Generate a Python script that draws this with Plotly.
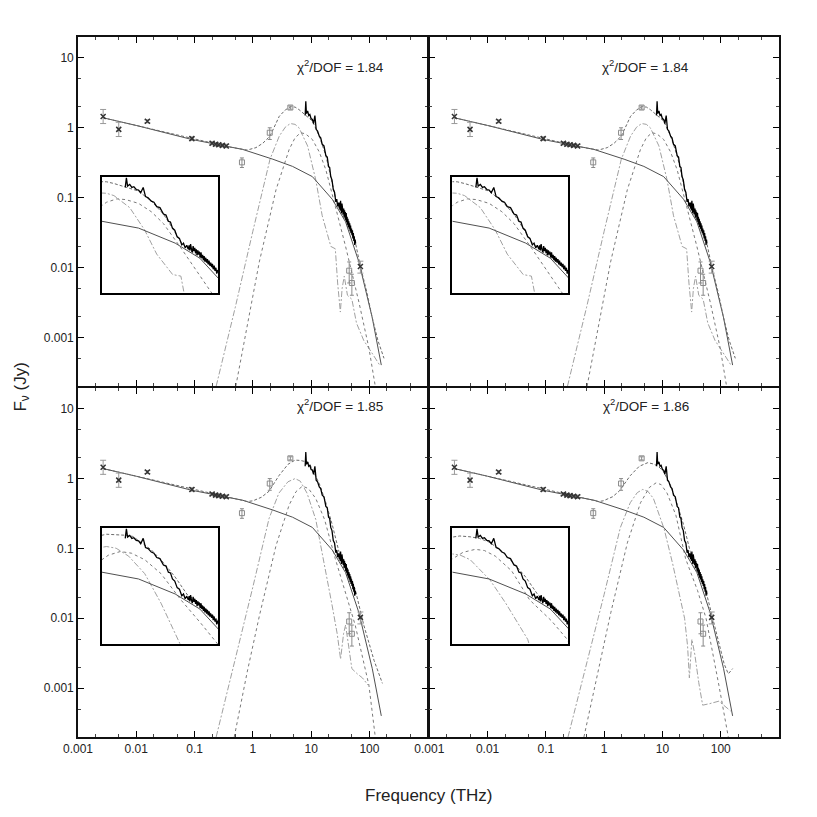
import plotly.graph_objects as go

# ---- observed photometry, black crosses (THz, Jy)
phot_freq = [0.0027, 0.005, 0.0155, 0.09, 0.2, 0.23, 0.26, 0.3, 0.35, 70]
phot_flux = [1.45, 0.95, 1.24, 0.70, 0.60, 0.58, 0.57, 0.56, 0.55, 0.0103]
phot_err_up = [0.38, 0.25, 0.06, 0.04, 0.03, 0.03, 0.03, 0.03, 0.03, 0.002]
phot_err_dn = [0.30, 0.20, 0.06, 0.04, 0.03, 0.03, 0.03, 0.03, 0.03, 0.002]

# ---- grey points, open squares
grey_freq = [0.65, 1.95, 4.4, 45, 50]
grey_flux = [0.32, 0.85, 1.95, 0.009, 0.006]
grey_err_up = [0.05, 0.15, 0.10, 0.003, 0.002]
grey_err_dn = [0.05, 0.17, 0.10, 0.003, 0.002]

# ---- mid-IR spectrum (black jagged line)
spec_freq = [7.9, 8.1, 8.3, 8.7, 9.1, 9.5, 10.0, 10.5, 11.0, 11.6, 12.2, 12.9,
             13.8, 14.6, 15.5, 16.6, 17.9, 18.9, 19.9, 20.8, 21.7, 22.8, 24.0,
             25.2, 26.5, 27.5, 28.5, 29.5, 30.5, 31.0, 31.5, 32.0, 32.6, 33.2,
             33.8, 34.4, 35.0, 35.6, 36.2, 36.8, 37.4, 38.0, 38.6, 39.3, 40.0,
             40.7, 41.4, 42.1, 42.8, 43.5, 44.3, 45.1, 45.9, 46.7, 47.5, 48.4,
             49.3, 50.2, 51.1, 52.0, 53.0, 54.0, 55.0, 56.0, 57.0, 58.0]
spec_flux = [1.5, 2.4, 1.6, 1.74, 1.5, 1.55, 1.35, 1.32, 1.15, 1.5, 0.95, 0.9,
             0.76, 0.72, 0.58, 0.55, 0.40, 0.38, 0.28, 0.27, 0.20, 0.18, 0.13,
             0.12, 0.087, 0.095, 0.075, 0.085, 0.07, 0.085, 0.066, 0.09, 0.07,
             0.06, 0.082, 0.064, 0.075, 0.058, 0.07, 0.052, 0.066, 0.054, 0.062,
             0.047, 0.06, 0.045, 0.053, 0.041, 0.05, 0.038, 0.046, 0.036, 0.043,
             0.033, 0.04, 0.031, 0.036, 0.029, 0.034, 0.026, 0.031, 0.024, 0.028,
             0.021, 0.025, 0.022]

# ---- synchrotron power law (same in every panel)
pl_freq = [0.0027, 0.01, 0.09, 0.67, 2.2, 4.8, 10.5, 23, 39, 66, 112, 160]
pl_flux = [1.39, 1.08, 0.68, 0.49, 0.355, 0.28, 0.20, 0.095, 0.045, 0.012, 0.0019, 0.0004]

# ---- top panels (chi2 = 1.84)
tot_a_freq = [0.0027, 0.01, 0.09, 0.4, 0.8, 1.13, 1.48, 1.97, 2.84, 3.6, 4.4, 5.3,
              6.2, 7.3, 8.7, 10.5, 13.8, 17.9, 21.7, 26.5, 32, 39, 48, 58, 70,
              90, 112, 140, 178]
tot_a_flux = [1.39, 1.08, 0.71, 0.53, 0.48, 0.52, 0.6, 0.76, 1.46, 1.8, 2.0, 1.98,
              1.82, 1.62, 1.45, 1.25, 0.76, 0.40, 0.20, 0.095, 0.065, 0.048, 0.033,
              0.022, 0.0103, 0.0045, 0.0019, 0.0009, 0.0005]
c1_a_freq = [0.235, 0.5, 1.0, 1.97, 2.84, 3.6, 4.4, 5.3, 6.2, 8.7, 12, 15.5, 21.8,
             26, 28.5, 31.7, 34, 37, 42, 50, 60, 80, 110, 150]
c1_a_flux = [0.0002, 0.0027, 0.033, 0.355, 0.76, 1.02, 1.15, 1.12, 1.0, 0.55, 0.18,
             0.055, 0.02, 0.0185, 0.006, 0.0023, 0.005, 0.0075, 0.004, 0.0035,
             0.0016, 0.0009, 0.0006, 0.0004]
c2_a_freq = [0.51, 0.8, 1.29, 2.5, 4.2, 5.3, 6.6, 8.0, 10.5, 13.8, 17.9, 26, 39,
             66, 98, 126]
c2_a_flux = [0.0002, 0.0015, 0.012, 0.13, 0.49, 0.72, 0.85, 0.82, 0.68, 0.45, 0.25,
             0.075, 0.02, 0.0032, 0.0007, 0.0002]

# ---- bottom left (chi2 = 1.85)
tot_c_freq = [0.0027, 0.01, 0.09, 0.4, 0.8, 1.0, 1.4, 1.9, 2.8, 4.0, 5.3, 6.5,
              8.0, 9.3, 13.8, 17.9, 23, 30, 39, 57, 80, 120, 167]
tot_c_flux = [1.39, 1.08, 0.71, 0.53, 0.47, 0.48, 0.54, 0.66, 1.1, 1.6, 1.84, 1.82,
              1.75, 1.65, 0.85, 0.45, 0.22, 0.09, 0.06, 0.026, 0.008, 0.0025, 0.00117]
c1_c_freq = [0.235, 0.5, 1.0, 1.9, 2.8, 4.0, 5.3, 6.5, 8.5, 12, 17, 23, 28, 32,
             36, 39, 44, 50, 62, 76, 95]
c1_c_flux = [0.0002, 0.0025, 0.028, 0.27, 0.62, 0.9, 1.0, 0.92, 0.62, 0.26, 0.06,
             0.015, 0.006, 0.0026, 0.006, 0.008, 0.004, 0.0019, 0.0016, 0.0014, 0.0011]
c2_c_freq = [0.48, 0.8, 1.3, 2.5, 4.2, 5.5, 7.1, 9.0, 12, 17, 26, 40, 57, 98, 126]
c2_c_flux = [0.0002, 0.0017, 0.011, 0.11, 0.42, 0.65, 0.78, 0.72, 0.52, 0.26,
             0.071, 0.022, 0.008, 0.0011, 0.0002]

# ---- bottom right (chi2 = 1.86)
tot_d_freq = [0.0027, 0.01, 0.09, 0.4, 0.8, 0.96, 1.4, 1.84, 2.8, 4.0, 5.6, 7.0,
              8.5, 10.5, 13.8, 17.9, 23, 30, 39, 56, 75, 93, 115, 135, 160]
tot_d_flux = [1.39, 1.08, 0.71, 0.53, 0.47, 0.48, 0.55, 0.67, 1.1, 1.5, 1.69, 1.62,
              1.5, 1.25, 0.8, 0.43, 0.22, 0.09, 0.058, 0.024, 0.009, 0.0045, 0.0022,
              0.0016, 0.0019]
c1_d_freq = [0.24, 0.5, 1.0, 1.9, 2.8, 3.7, 4.6, 5.6, 7.0, 10.7, 15, 20, 24, 27,
             29, 32, 36, 42, 49, 65, 93, 148]
c1_d_flux = [0.0002, 0.0022, 0.022, 0.2, 0.45, 0.63, 0.70, 0.66, 0.52, 0.19, 0.06,
             0.02, 0.01, 0.004, 0.0014, 0.005, 0.003, 0.0012, 0.00057, 0.0006,
             0.00065, 0.00047]
c2_d_freq = [0.45, 0.8, 1.3, 2.5, 4.2, 6.0, 7.8, 9.5, 12, 17, 25, 40, 56, 93, 135]
c2_d_flux = [0.0002, 0.0019, 0.012, 0.12, 0.45, 0.75, 0.87, 0.82, 0.62, 0.3, 0.071,
             0.025, 0.01, 0.0011, 0.0002]

chi_labels = ["1.84", "1.84", "1.85", "1.86"]

x_ticks = [0.001, 0.01, 0.1, 1, 10, 100]
x_ticktext = ["0.001", "0.01", "0.1", "1", "10", "100"]
y_ticks = [0.001, 0.01, 0.1, 1, 10]
y_ticktext = ["0.001", "0.01", "0.1", "1", "10"]

FONT = "Liberation Sans"
LW = 1.6  # frame line width

panels = [
    # main axes, inset axes, model curves
    ("", "5", tot_a_freq, tot_a_flux, c1_a_freq, c1_a_flux, c2_a_freq, c2_a_flux),
    ("2", "6", tot_a_freq, tot_a_flux, c1_a_freq, c1_a_flux, c2_a_freq, c2_a_flux),
    ("3", "7", tot_c_freq, tot_c_flux, c1_c_freq, c1_c_flux, c2_c_freq, c2_c_flux),
    ("4", "8", tot_d_freq, tot_d_flux, c1_d_freq, c1_d_flux, c2_d_freq, c2_d_flux),
]


def add_curves(fig, xa, ya, tf, tv, c1f, c1v, c2f, c2v, inset=False):
    ref = dict(xaxis="x" + xa, yaxis="y" + ya, showlegend=False, hoverinfo="skip")
    # model components
    fig.add_trace(go.Scatter(x=c1f, y=c1v, mode="lines",
                             line=dict(color="#a0a0a0", width=1, dash="6px,2px,2px,2px"), **ref))
    fig.add_trace(go.Scatter(x=c2f, y=c2v, mode="lines",
                             line=dict(color="#7a7a7a", width=1, dash="dot"), **ref))
    fig.add_trace(go.Scatter(x=pl_freq, y=pl_flux, mode="lines",
                             line=dict(color="#505050", width=1), **ref))
    fig.add_trace(go.Scatter(x=tf, y=tv, mode="lines",
                             line=dict(color="#6a6a6a", width=1, dash="3px,2px"), **ref))
    # spectrum
    fig.add_trace(go.Scatter(x=spec_freq, y=spec_flux, mode="lines",
                             line=dict(color="black", width=1.3), **ref))
    if inset:
        return
    fig.add_trace(go.Scatter(x=grey_freq, y=grey_flux, mode="markers",
                             marker=dict(symbol="square-open", size=5, color="#8a8a8a",
                                         line=dict(width=1)),
                             error_y=dict(type="data", array=grey_err_up, arrayminus=grey_err_dn,
                                          color="#8a8a8a", thickness=1, width=2), **ref))
    fig.add_trace(go.Scatter(x=phot_freq, y=phot_flux, mode="markers",
                             marker=dict(symbol="x-thin-open", size=5, color="#333",
                                         line=dict(width=1.5, color="#333")),
                             error_y=dict(type="data", array=phot_err_up, arrayminus=phot_err_dn,
                                          color="#999", thickness=1, width=3), **ref))


def main_axis(domain, anchor, tickvals, ticktext, rng, labels):
    return dict(type="log", domain=domain, anchor=anchor, range=rng,
                showline=True, linecolor="#111", linewidth=LW, mirror="allticks",
                ticks="inside", ticklen=6, tickwidth=1, tickcolor="black",
                showgrid=False, zeroline=False,
                tickmode="array", tickvals=tickvals, ticktext=ticktext,
                minor=dict(ticks="inside", ticklen=3, tickwidth=1, tickcolor="#444",
                           dtick="D2", showgrid=False),
                showticklabels=labels,
                tickfont=dict(family=FONT, size=12, color="#222"))


def inset_axis(domain, anchor, rng):
    return dict(type="log", domain=domain, anchor=anchor, range=rng,
                showline=True, linecolor="black", linewidth=1.5, mirror=True,
                ticks="", showgrid=False, zeroline=False, showticklabels=False)


fig = go.Figure()
for xa, ia, tf, tv, c1f, c1v, c2f, c2v in panels:
    add_curves(fig, xa, xa, tf, tv, c1f, c1v, c2f, c2v)
    add_curves(fig, ia, ia, tf, tv, c1f, c1v, c2f, c2v, inset=True)

xr = [-3, 3]
yr = [-3.7, 1.3]
ix = [0.68, 1.76]
iy = [-2.1, 0.4]
# small gap so the shared frame lines of neighbouring panels overlap
gx = LW / 2 / 701
gy = LW / 2 / 700
top = [0.5 + gy, 1.0]
bot = [0.0, 0.5 - gy]
left = [0.0, 0.5 - gx]
right = [0.5 + gx, 1.0]

# page body adds an 8px offset, so the figure is 8px smaller
fig.update_layout(
    width=809, height=809,
    margin=dict(l=70, r=38, t=29, b=80),
    plot_bgcolor="white", paper_bgcolor="white",
    font=dict(family=FONT, color="#222"),
    xaxis=main_axis(left, "y", x_ticks, x_ticktext, xr, False),
    yaxis=main_axis(top, "x", y_ticks, y_ticktext, yr, True),
    xaxis2=main_axis(right, "y2", x_ticks, x_ticktext, xr, False),
    yaxis2=main_axis(top, "x2", y_ticks, y_ticktext, yr, False),
    xaxis3=main_axis(left, "y3", x_ticks, x_ticktext, xr, True),
    yaxis3=main_axis(bot, "x3", y_ticks, y_ticktext, yr, True),
    xaxis4=main_axis(right, "y4", x_ticks, x_ticktext, xr, True),
    yaxis4=main_axis(bot, "x4", y_ticks, y_ticktext, yr, False),
    xaxis5=inset_axis([0.034, 0.1997], "y5", ix),
    yaxis5=inset_axis([0.634, 0.80], "x5", iy),
    xaxis6=inset_axis([0.5342, 0.6997], "y6", ix),
    yaxis6=inset_axis([0.634, 0.80], "x6", iy),
    xaxis7=inset_axis([0.034, 0.1997], "y7", ix),
    yaxis7=inset_axis([0.1329, 0.2986], "x7", iy),
    xaxis8=inset_axis([0.5342, 0.6997], "y8", ix),
    yaxis8=inset_axis([0.1329, 0.2986], "x8", iy),
)

# chi2 labels, one per panel
chi_pos = [(0.374, 0.974), (0.874, 0.974), (0.374, 0.474), (0.874, 0.474)]
for (px, py), lab in zip(chi_pos, chi_labels):
    fig.add_annotation(x=px, y=py, xref="paper", yref="paper", showarrow=False,
                       text="χ<sup>2</sup>/DOF = " + lab,
                       font=dict(family=FONT, size=13.5, color="#222"))

fig.add_annotation(x=0.5, y=-0.1, xref="paper", yref="paper", showarrow=False,
                   text="Frequency (THz)", font=dict(family=FONT, size=17, color="#222"))
fig.add_annotation(x=-0.099, y=0.5, xref="paper", yref="paper", showarrow=False,
                   textangle=-90, text="F<sub>ν</sub> (Jy)",
                   font=dict(family=FONT, size=17, color="#222"))

fig.write_html("out.html")
